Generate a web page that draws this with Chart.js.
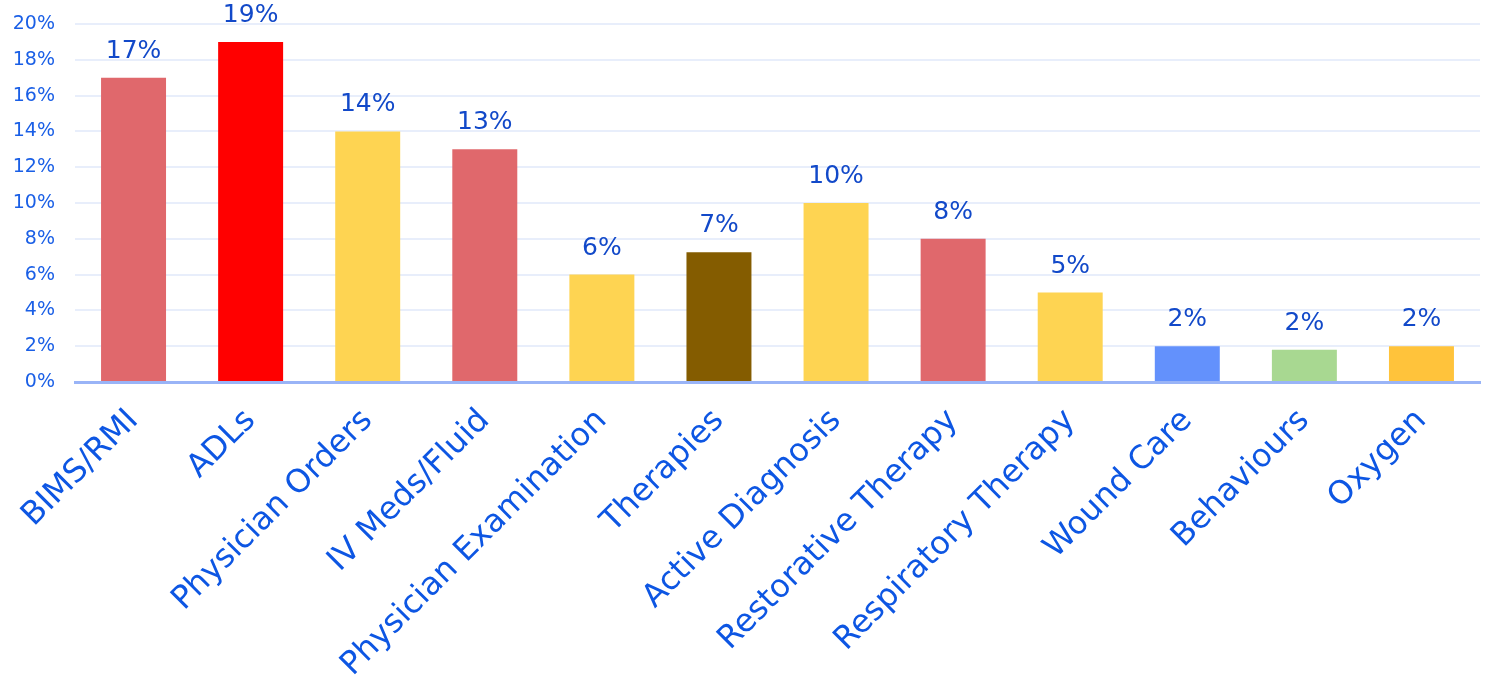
<!DOCTYPE html>
<html>
<head>
<meta charset="utf-8">
<script src="https://cdn.jsdelivr.net/npm/chart.js@4.4.1/dist/chart.umd.min.js"></script>
<style>
  html, body { margin: 0; padding: 0; background: #fff; }
  #wrap { width: 1485px; height: 688px; }
</style>
</head>
<body>
<div id="wrap"><canvas id="barChart"></canvas></div>
<script>
var categories = ['BIMS/RMI', 'ADLs', 'Physician Orders', 'IV Meds/Fluid', 'Physician Examination', 'Therapies', 'Active Diagnosis', 'Restorative Therapy', 'Respiratory Therapy', 'Wound Care', 'Behaviours', 'Oxygen'];
var values = [17, 19, 14, 13, 6, 7.25, 10, 8, 5, 2, 1.8, 2];
var barColors = ['#e0686c', '#ff0000', '#fed452', '#e0686c', '#fed452', '#845c00', '#fed452', '#e0686c', '#fed452', '#6391fc', '#a8d891', '#ffc33b'];
var yTicks = [0, 2, 4, 6, 8, 10, 12, 14, 16, 18, 20];

document.addEventListener("DOMContentLoaded", function () {
    var ctx = document.getElementById('barChart').getContext('2d');

    // simple value labels above each bar
    var valueLabels = {
        id: 'valueLabels',
        afterDatasetsDraw: function (chart) {
            var c = chart.ctx;
            var meta = chart.getDatasetMeta(0);
            c.save();
            c.font = '25px "DejaVu Sans"';
            c.fillStyle = '#1249c9';
            c.textAlign = 'center';
            c.textBaseline = 'bottom';
            meta.data.forEach(function (bar, i) {
                c.fillText(Math.round(values[i]) + '%', bar.x, bar.y - 14);
            });
            c.restore();
        }
    };

    new Chart(ctx, {
        type: 'bar',
        data: {
            labels: categories,
            datasets: [{
                data: values,
                backgroundColor: barColors,
                borderWidth: 0,
                categoryPercentage: 1,
                barPercentage: 0.555
            }]
        },
        options: {
            responsive: true,
            maintainAspectRatio: false,
            animation: false,
            layout: { padding: { top: 24, right: 5, left: 0, bottom: 0 } },
            plugins: {
                legend: { display: false },
                tooltip: { enabled: false }
            },
            scales: {
                x: {
                    grid: { display: false, drawTicks: false },
                    border: { color: '#99b4f7', width: 3 },
                    ticks: {
                        color: '#0d56e3',
                        font: { family: 'DejaVu Sans', size: 32 },
                        maxRotation: 45,
                        minRotation: 45,
                        autoSkip: false,
                        padding: 20
                    },
                    afterFit: function (scale) { scale.height = 306; }
                },
                y: {
                    min: 0,
                    max: 20,
                    grid: { color: '#e8eefb', lineWidth: 2, drawTicks: false },
                    border: { display: false },
                    afterBuildTicks: function (scale) {
                        scale.ticks = yTicks.map(function (v) { return { value: v }; });
                    },
                    ticks: {
                        color: '#1a5fe6',
                        font: { family: 'DejaVu Sans', size: 19 },
                        padding: 20,
                        callback: function (value) { return value + '%'; }
                    },
                    afterFit: function (scale) {
                        scale.width = 75;
                        scale.paddingTop = 0;
                        scale.paddingBottom = 0;
                    }
                }
            }
        },
        plugins: [valueLabels]
    });
});
</script>
</body>
</html>
